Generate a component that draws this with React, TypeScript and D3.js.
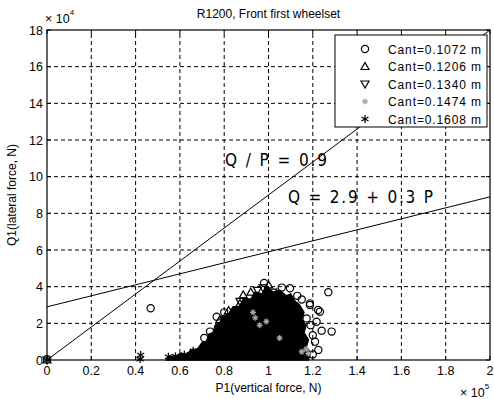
import React from "react";
import * as d3 from "d3";

const W = 494;
const H = 399;

const xTicks = [0, 0.2, 0.4, 0.6, 0.8, 1, 1.2, 1.4, 1.6, 1.8, 2];
const xTickLabels = ["0", "0.2", "0.4", "0.6", "0.8", "1", "1.2", "1.4", "1.6", "1.8", "2"];
const yTicks = [0, 2, 4, 6, 8, 10, 12, 14, 16, 18];
const yTickLabels = ["0", "2", "4", "6", "8", "10", "12", "14", "16", "18"];

const legendLabels = ["Cant=0.1072 m", "Cant=0.1206 m", "Cant=0.1340 m", "Cant=0.1474 m", "Cant=0.1608 m"];
const markerKinds = ["circle", "triUp", "triDown", "gray", "star"];

// limit line Q/P = 0.9  (P in 1e5 N, Q in 1e4 N)
const limitP = [0, 2];
const limitQ = [0, 18];
// regression line Q = 2.9 + 0.3 P
const regP = [0, 2];
const regQ = [2.9, 8.9];

// dense core of the scatter cloud (outline of the saturated region)
const clusterOutline: [number, number][] = [
  [0.54, 0], [0.55, 0.2], [0.58, 0.15], [0.6, 0.35], [0.63, 0.3], [0.65, 0.55], [0.68, 0.6],
  [0.7, 0.95], [0.72, 1.0], [0.73, 1.4], [0.75, 1.5], [0.76, 1.9], [0.78, 2.0], [0.79, 2.4],
  [0.82, 2.5], [0.84, 2.9], [0.87, 2.9], [0.89, 3.4], [0.92, 3.3], [0.94, 3.7], [0.97, 3.6],
  [0.99, 4.0], [1.02, 3.7], [1.05, 3.8], [1.08, 3.5], [1.1, 3.6], [1.12, 3.2], [1.14, 3.0],
  [1.16, 2.6], [1.15, 2.2], [1.17, 1.9], [1.16, 1.5], [1.18, 1.1], [1.17, 0.7], [1.19, 0.4], [1.18, 0],
];

const cant1072: [number, number][] = [
  [0.468, 2.82], [0.736, 1.55], [0.766, 2.36], [0.8, 2.6], [0.98, 4.2], [1.097, 3.91], [1.13, 3.5],
  [1.172, 2.27], [1.187, 3.0], [1.187, 3.09], [1.217, 2.09], [1.224, 2.73], [1.232, 2.63],
  [1.24, 1.6], [1.285, 1.55], [1.27, 3.7], [1.21, 1.0], [1.225, 0.55], [1.2, 0.3], [1.15, 3.3],
  [1.2, 1.35], [1.19, 1.9], [1.06, 3.95], [0.71, 1.2], [0.0, 0.05],
];
const cant1206: [number, number][] = [
  [0.886, 3.55], [0.871, 3.09], [0.92, 3.7], [0.82, 2.7], [1.0, 4.1], [0.78, 2.2], [0.0, 0],
];
const cant1340: [number, number][] = [
  [0.975, 3.93], [1.02, 3.7], [0.871, 3.2], [0.95, 3.8], [0.0, 0],
];
const cant1474: [number, number][] = [
  [1.15, 0.45], [1.17, 0.6], [1.18, 0.35], [0.94, 2.3], [0.96, 1.9], [0.93, 2.6], [0.99, 2.1], [1.05, 1.2], [0.0, 0],
];
const cant1608: [number, number][] = [
  [0.0, 0], [0.423, 0.27], [0.548, 0.18], [0.58, 0.2], [0.42, 0.05], [0.62, 0.3], [0.66, 0.5],
];
const seriesData = [cant1072, cant1206, cant1340, cant1474, cant1608];

const FONT = "Liberation Sans, Arial, sans-serif";
const NARROW = "Liberation Sans Narrow, DejaVu Sans Condensed, Liberation Sans, sans-serif";

function Marker({ kind, cx, cy }: { kind: string; cx: number; cy: number }) {
  if (kind === "circle") return <circle cx={cx} cy={cy} r={3.6} fill="none" stroke="#000" strokeWidth={1.2} />;
  if (kind === "triUp") {
    const p = `${cx},${cy - 4} ${cx - 4},${cy + 3} ${cx + 4},${cy + 3}`;
    return <polygon points={p} fill="none" stroke="#000" strokeWidth={1.2} />;
  }
  if (kind === "triDown") {
    const p = `${cx},${cy + 4} ${cx - 4},${cy - 3} ${cx + 4},${cy - 3}`;
    return <polygon points={p} fill="none" stroke="#000" strokeWidth={1.2} />;
  }
  if (kind === "gray") {
    return (
      <g stroke="#aaa" strokeWidth={1.2}>
        <line x1={cx - 3} y1={cy} x2={cx + 3} y2={cy} />
        <line x1={cx} y1={cy - 3} x2={cx} y2={cy + 3} />
        <line x1={cx - 2} y1={cy - 2} x2={cx + 2} y2={cy + 2} />
        <line x1={cx - 2} y1={cy + 2} x2={cx + 2} y2={cy - 2} />
      </g>
    );
  }
  return (
    <g stroke="#000" strokeWidth={1.3}>
      <line x1={cx} y1={cy - 4} x2={cx} y2={cy + 4} />
      <line x1={cx - 3.5} y1={cy - 2} x2={cx + 3.5} y2={cy + 2} />
      <line x1={cx - 3.5} y1={cy + 2} x2={cx + 3.5} y2={cy - 2} />
    </g>
  );
}

export default function App() {
  const x = d3.scaleLinear().domain([0, 2]).range([47, 490]);
  const y = d3.scaleLinear().domain([0, 18]).range([360, 30]);
  const line = d3.line<[number, number]>().x((d) => x(d[0])).y((d) => y(d[1]));
  const limitPts = limitP.map((p, i) => [p, limitQ[i]] as [number, number]);
  const regPts = regP.map((p, i) => [p, regQ[i]] as [number, number]);
  const coreArea = d3.line<[number, number]>().x((d) => x(d[0])).y((d) => y(d[1])).curve(d3.curveLinearClosed);

  const [x0, x1] = x.range();
  const [y0, y1] = y.range();

  return (
    <svg width={W} height={H} style={{ position: "absolute", left: 0, top: 0, background: "#fff" }} fontFamily={FONT}>
      <rect x={0} y={0} width={W} height={H} fill="#fff" />
      {/* grid */}
      <g stroke="#000" strokeWidth={1} strokeDasharray="4 3">
        {xTicks.slice(1, -1).map((t) => (
          <line key={"gx" + t} x1={x(t)} x2={x(t)} y1={y0} y2={y1} />
        ))}
        {yTicks.slice(1, -1).map((t) => (
          <line key={"gy" + t} x1={x0} x2={x1} y1={y(t)} y2={y(t)} />
        ))}
      </g>
      {/* scatter core */}
      <path d={coreArea(clusterOutline) || ""} fill="#000" stroke="#000" strokeWidth={1.5} />
      {seriesData.map((s, si) =>
        s.map((d, i) => <Marker key={si + "-" + i} kind={markerKinds[si]} cx={x(d[0])} cy={y(d[1])} />)
      )}
      {/* lines */}
      <path d={line(limitPts) || ""} fill="none" stroke="#000" strokeWidth={1} />
      <path d={line(regPts) || ""} fill="none" stroke="#000" strokeWidth={1} />
      {/* axes box */}
      <rect x={x0} y={y1} width={x1 - x0} height={y0 - y1} fill="none" stroke="#000" strokeWidth={1.2} />
      {/* ticks */}
      <g stroke="#000" strokeWidth={1}>
        {xTicks.map((t) => (
          <g key={"tx" + t}>
            <line x1={x(t)} x2={x(t)} y1={y0} y2={y0 - 4} />
            <line x1={x(t)} x2={x(t)} y1={y1} y2={y1 + 4} />
          </g>
        ))}
        {yTicks.map((t) => (
          <g key={"ty" + t}>
            <line x1={x0} x2={x0 + 4} y1={y(t)} y2={y(t)} />
            <line x1={x1} x2={x1 - 4} y1={y(t)} y2={y(t)} />
          </g>
        ))}
      </g>
      {/* tick labels */}
      <g fontSize={12.5} fill="#000">
        {xTicks.map((t, i) => (
          <text key={"lx" + t} x={x(t)} y={y0 + 15} textAnchor="middle">{xTickLabels[i]}</text>
        ))}
        {yTicks.map((t, i) => (
          <text key={"ly" + t} x={x0 - 4} y={y(t) + 4.5} textAnchor="end">{yTickLabels[i]}</text>
        ))}
      </g>
      {/* exponents */}
      <text x={45} y={23} fontSize={12.5}>× 10<tspan fontSize={8} dy={-8}>4</tspan></text>
      <text x={460} y={397} fontSize={12.5}>× 10<tspan fontSize={8} dy={-8}>5</tspan></text>
      {/* title & labels */}
      <text x={(x0 + x1) / 2} y={18} fontSize={12} textAnchor="middle">R1200, Front first wheelset</text>
      <text x={(x0 + x1) / 2} y={392} fontSize={12} textAnchor="middle">P1(vertical force, N)</text>
      <text transform={`translate(16,${(y0 + y1) / 2}) rotate(-90)`} fontSize={12} textAnchor="middle">Q1(lateral force, N)</text>
      {/* annotations */}
      <text x={225} y={166} fontSize={17} fontFamily={NARROW} textLength={102} lengthAdjust="spacing">Q / P = 0.9</text>
      <text x={288} y={203} fontSize={17} fontFamily={NARROW} textLength={145} lengthAdjust="spacing">Q = 2.9 + 0.3 P</text>
      {/* legend */}
      <g>
        <rect x={335} y={35} width={152} height={92} fill="#fff" stroke="#000" strokeWidth={1} />
        {legendLabels.map((lab, i) => (
          <g key={lab}>
            <Marker kind={markerKinds[i]} cx={365} cy={49 + i * 17.5} />
            <text x={388} y={53.5 + i * 17.5} fontSize={12} textLength={93} lengthAdjust="spacing">{lab}</text>
          </g>
        ))}
      </g>
    </svg>
  );
}
